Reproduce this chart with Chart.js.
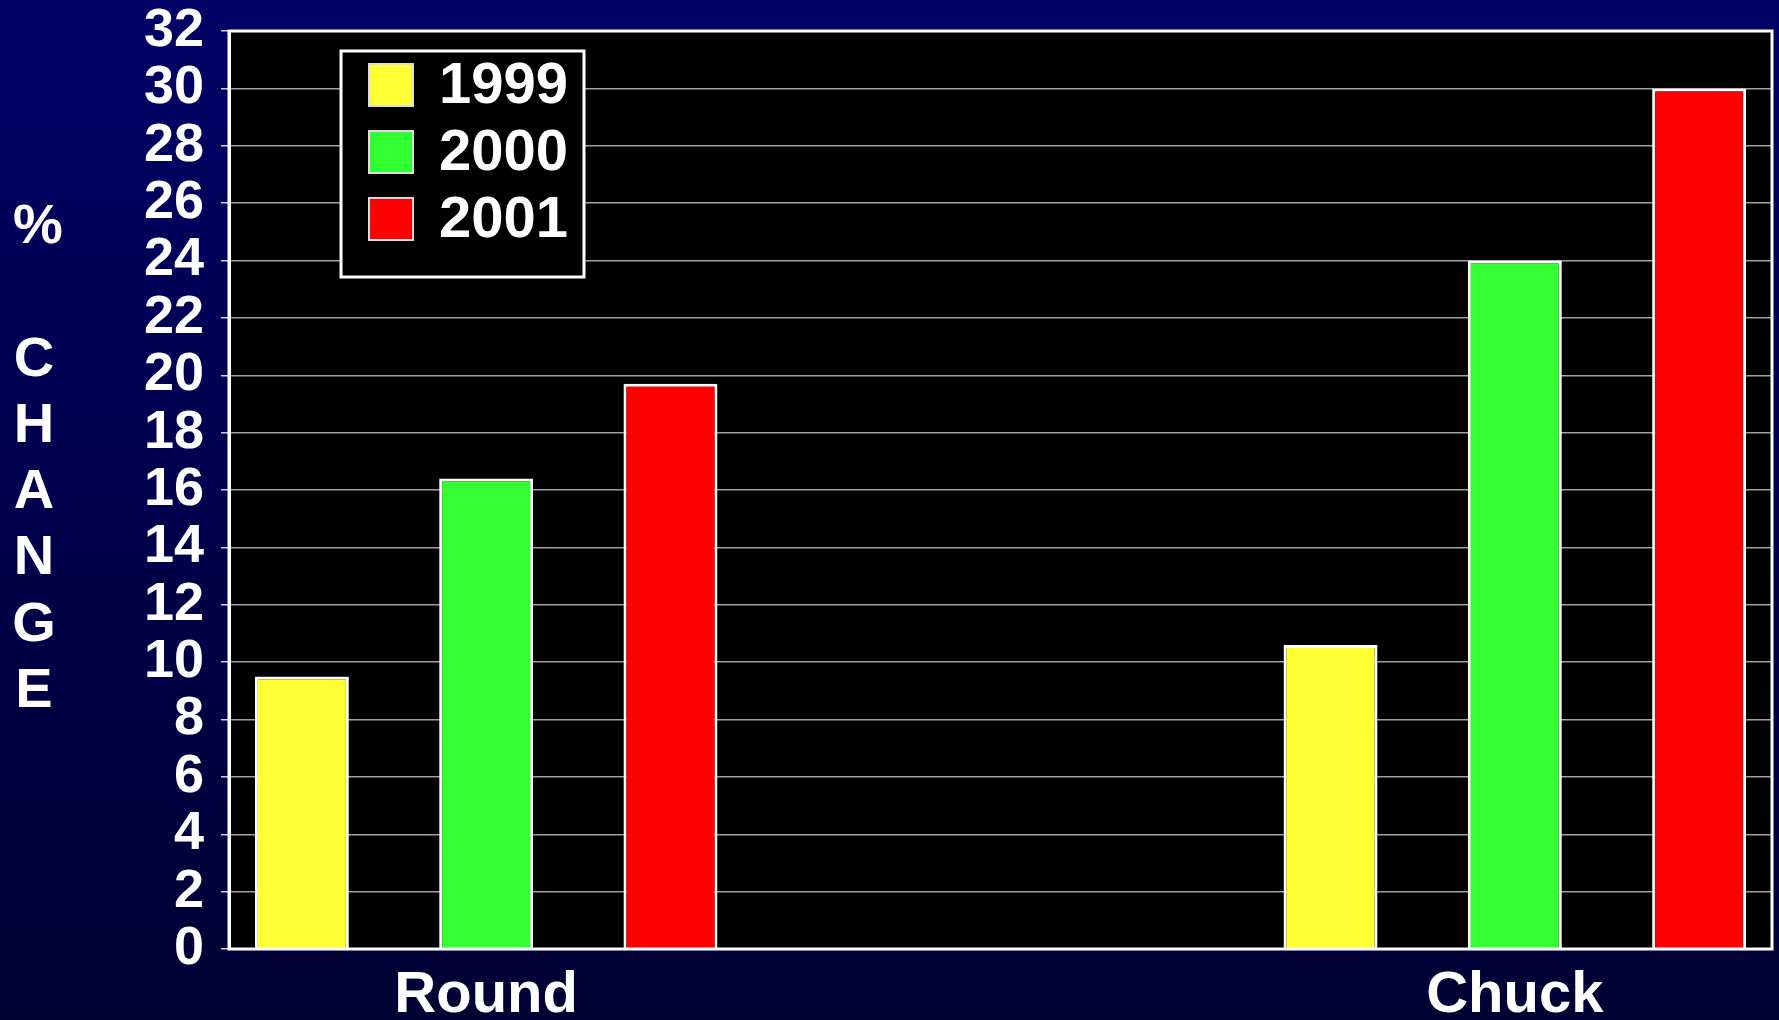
<!DOCTYPE html>
<html>
<head>
<meta charset="utf-8">
<script src="https://cdn.jsdelivr.net/npm/chart.js@4/dist/chart.umd.min.js"></script>
<style>
html, body { margin: 0; padding: 0; }
body { width: 1779px; height: 1020px; overflow: hidden; background: linear-gradient(#000066, #000033); }
</style>
</head>
<body>
<canvas id="c" width="1779" height="1020"></canvas>
<script>
const categories = ['Round', 'Chuck'];
const years = ['1999', '2000', '2001'];
const values1999 = [9.5, 10.6];
const values2000 = [16.4, 24.0];
const values2001 = [19.7, 30.0];
const yearColors = ['#ffff33', '#33ff33', '#ff0000'];
const yMin = 0, yMax = 32, yStep = 2;
const yLabel = ['%', '', 'C', 'H', 'A', 'N', 'G', 'E'];

const FONT = "'Liberation Sans', Arial, sans-serif";

// empty slot between the two groups, like the original slide
function spaced(arr) {
	return [arr[0], null, arr[1]];
}

const series = [values1999, values2000, values2001];

// black plot area + white frame
const plotFrame = {
	id: 'plotFrame',
	beforeDraw(chart) {
		const { ctx, chartArea: a } = chart;
		ctx.save();
		ctx.fillStyle = '#000000';
		ctx.fillRect(a.left, a.top, a.right - a.left, a.bottom - a.top);
		ctx.restore();
	},
	afterDraw(chart) {
		const { ctx, chartArea: a } = chart;
		ctx.save();
		ctx.strokeStyle = '#ffffff';
		ctx.lineWidth = 3;
		ctx.strokeRect(a.left, a.top, a.right - a.left, a.bottom - a.top);
		ctx.restore();
	}
};

// boxed legend in the top left corner of the plot
const boxLegend = {
	id: 'boxLegend',
	afterDraw(chart) {
		const { ctx, chartArea: a } = chart;
		const x = a.left + 112, y = a.top + 20;
		ctx.save();
		ctx.fillStyle = '#000000';
		ctx.fillRect(x, y, 243, 226);
		ctx.strokeStyle = '#ffffff';
		ctx.lineWidth = 3;
		ctx.strokeRect(x, y, 243, 226);
		chart.data.datasets.forEach((ds, i) => {
			const cy = y + 34 + i * 67;
			ctx.fillStyle = ds.backgroundColor;
			ctx.fillRect(x + 28, cy - 21, 44, 42);
			ctx.strokeStyle = '#dddddd';
			ctx.lineWidth = 2;
			ctx.strokeRect(x + 28, cy - 21, 44, 42);
			ctx.fillStyle = '#ffffff';
			ctx.font = `bold 58px ${FONT}`;
			ctx.textAlign = 'left';
			ctx.textBaseline = 'middle';
			ctx.fillText(ds.label, x + 98, cy + 2);
		});
		ctx.restore();
	}
};

// stacked letters for the y axis title
const stackedTitle = {
	id: 'stackedTitle',
	afterDraw(chart) {
		const ctx = chart.ctx;
		ctx.save();
		ctx.fillStyle = '#ffffff';
		ctx.font = `bold 56px ${FONT}`;
		ctx.textAlign = 'center';
		ctx.textBaseline = 'middle';
		yLabel.forEach((ch, i) => {
			ctx.fillText(ch, ch === '%' ? 38 : 34, 228 + i * 66.2);
		});
		ctx.restore();
	}
};

window.onload = function() {
	new Chart(document.getElementById('c').getContext('2d'), {
		type: 'bar',
		data: {
			labels: [categories[0], '', categories[1]],
			datasets: years.map((yr, i) => ({
				label: yr,
				data: spaced(series[i]),
				backgroundColor: yearColors[i],
				borderColor: '#ffffff',
				borderWidth: 3,
				categoryPercentage: 1.075,
				barPercentage: 0.51,
			})),
		},
		options: {
			responsive: false,
			animation: false,
			devicePixelRatio: 1,
			layout: { padding: { left: 144, right: 7, top: 31, bottom: 0 } },
			plugins: {
				legend: { display: false },
				tooltip: { enabled: false },
			},
			scales: {
				x: {
					grid: { display: false },
					border: { display: false },
					ticks: {
						color: '#ffffff',
						font: { family: FONT, size: 58, weight: 'bold', lineHeight: 1 },
						padding: 10,
						maxRotation: 0,
					},
					afterFit(s) {
						s.height = 71;
						s.paddingLeft = 0;
						s.paddingRight = 0;
					},
				},
				y: {
					min: yMin,
					max: yMax,
					grid: {
						color: '#a0a0a0',
						lineWidth: 1.5,
						tickLength: 8,
						tickColor: '#d0d0d0',
					},
					border: { color: '#ffffff', width: 3 },
					ticks: {
						stepSize: yStep,
						autoSkip: false,
						color: '#ffffff',
						font: { family: FONT, size: 54, weight: 'bold', lineHeight: 1 },
						padding: 17,
					},
					afterFit(s) {
						s.width = 85;
						s.paddingTop = 0;
						s.paddingBottom = 0;
					},
				},
			},
		},
		plugins: [plotFrame, boxLegend, stackedTitle],
	});
};
</script>
</body>
</html>
